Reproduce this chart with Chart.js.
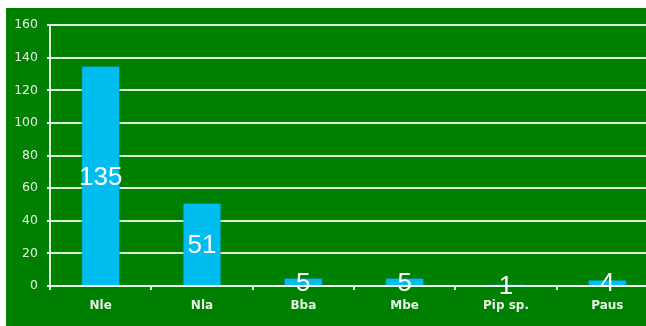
<!DOCTYPE html>
<html>
<head>
<meta charset="utf-8">
<script src="https://cdn.jsdelivr.net/npm/chart.js@4/dist/chart.umd.min.js"></script>
<style>
  html, body { margin: 0; padding: 0; background: #ffffff; overflow: hidden; width: 646px; height: 326px; }
  #wrap { position: absolute; left: 6px; top: 8px; width: 660px; height: 318px; background: #008000; }
  canvas { display: block; }
</style>
</head>
<body>
<div id="wrap"><canvas id="c" width="660" height="318"></canvas></div>
<script>
// Specimen counts per taxon
const categories = ['Nle', 'Nla', 'Bba', 'Mbe', 'Pip sp.', 'Paus'];
const counts = [135, 51, 5, 5, 1, 4];
const yTicks = [0, 20, 40, 60, 80, 100, 120, 140, 160];

const lineColor = 'rgba(232, 244, 232, 0.95)';
const textColor = '#e6f2e6';

// Writes each bar's value in the middle of the bar
const barValueLabels = {
  id: 'barValueLabels',
  afterDatasetsDraw(chart) {
    const ctx = chart.ctx;
    const meta = chart.getDatasetMeta(0);
    ctx.save();
    ctx.font = '26px "Liberation Sans", Arial, sans-serif';
    ctx.fillStyle = '#ffffff';
    ctx.textAlign = 'center';
    ctx.textBaseline = 'middle';
    meta.data.forEach((bar, i) => {
      const v = chart.data.datasets[0].data[i];
      ctx.fillText(String(v), bar.x, (bar.y + bar.base) / 2 + 2);
    });
    ctx.restore();
  }
};

new Chart(document.getElementById('c'), {
  type: 'bar',
  data: {
    labels: categories,
    datasets: [{
      data: counts,
      backgroundColor: '#00bdf0',
      borderColor: 'rgba(20, 120, 180, 0.55)',
      borderWidth: 1,
      categoryPercentage: 1,
      barPercentage: 0.385
    }]
  },
  options: {
    responsive: false,
    animation: false,
    layout: { padding: { top: 17, right: 8, left: 0, bottom: 0 } },
    plugins: { legend: { display: false }, tooltip: { enabled: false } },
    scales: {
      y: {
        min: 0,
        max: 160,
        afterBuildTicks(scale) { scale.ticks = yTicks.map(v => ({ value: v })); },
        afterFit(scale) { scale.width = 44; },
        grid: { color: lineColor, lineWidth: 2, tickLength: 3, drawTicks: true },
        border: { color: lineColor, width: 2 },
        ticks: {
          color: textColor,
          padding: 9,
          font: { family: '"DejaVu Sans", sans-serif', size: 12.5 }
        }
      },
      x: {
        afterFit(scale) { scale.height = 40; },
        grid: { drawOnChartArea: false, drawTicks: true, tickLength: 4, color: lineColor, lineWidth: 2, offset: true },
        border: { color: lineColor, width: 2 },
        ticks: {
          color: textColor,
          padding: 9,
          maxRotation: 0,
          font: { family: '"DejaVu Sans", sans-serif', size: 12, weight: 'bold' }
        }
      }
    }
  },
  plugins: [barValueLabels]
});
</script>
</body>
</html>
